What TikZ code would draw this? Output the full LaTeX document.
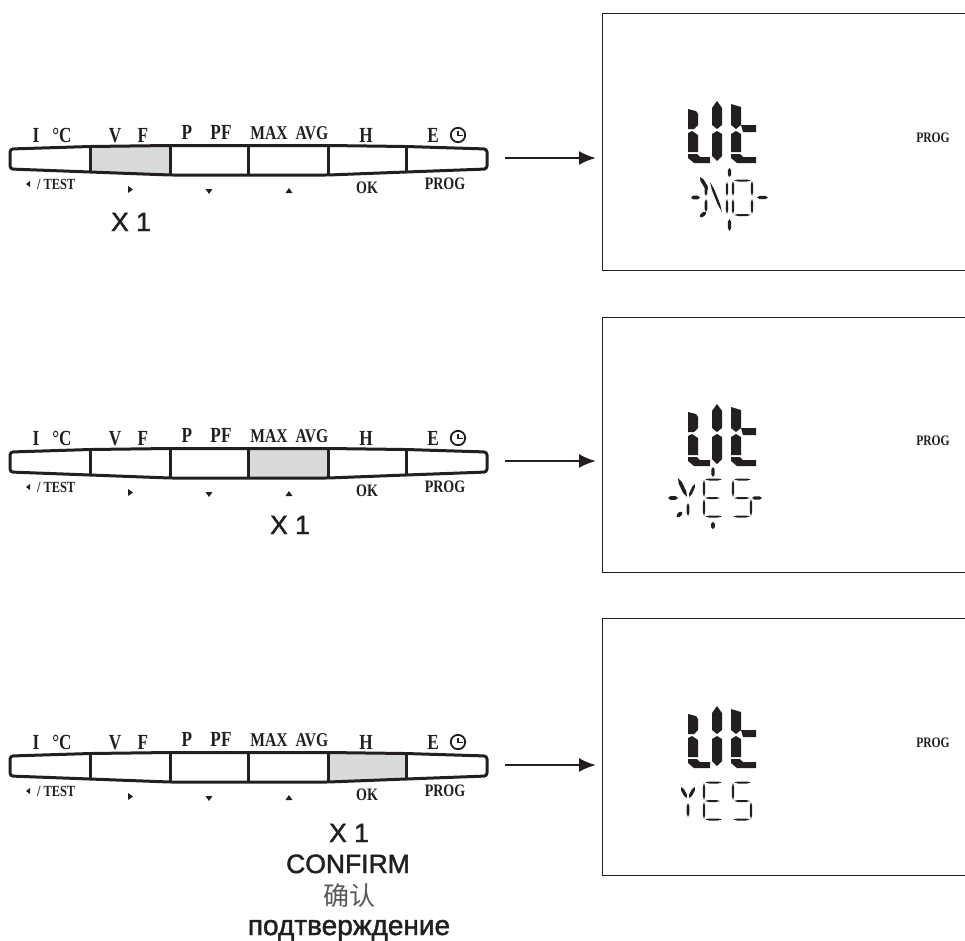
\documentclass[tikz,border=0pt]{standalone}
\usepackage{fontspec}
\setmainfont{Liberation Sans}
\newfontfamily\lab[FakeStretch=.8]{Liberation Serif}
\newfontfamily\cjk{Noto Sans CJK SC}
\newfontfamily\hel[FakeBold=1.6]{Liberation Sans}
\usetikzlibrary{calc,arrows.meta}
\definecolor{ink}{HTML}{231F20}
\definecolor{cellgray}{HTML}{D9DADB}
\tikzset{
  x=1bp,y=-1bp,
  every node/.style={inner sep=0pt,outer sep=0pt,text=ink},
  toplab/.style={anchor=base,font=\lab\bfseries\fontsize{21.5bp}{22bp}\selectfont},
  toplabs/.style={anchor=base,font=\lab\bfseries\fontsize{19.5bp}{20bp}\selectfont},
  botlab/.style={anchor=base,font=\lab\bfseries\fontsize{17.5bp}{18bp}\selectfont},
  caption/.style={anchor=base,font=\hel\fontsize{26.5bp}{27bp}\selectfont},
  progsmall/.style={anchor=base,font=\lab\bfseries\fontsize{14.5bp}{15bp}\selectfont},
  barline/.style={draw=ink,line width=3bp},
  boxline/.style={draw=ink,line width=1bp},
  arrowline/.style={draw=ink,line width=2.3bp,-{Latex[length=17bp,width=14bp]}},
}
% tapered LCD segment
\newcommand{\sg}[5]{\fill[ink] (#1,#2) -- ($(#1,#2)!.25!(#3,#4)!#5 bp!90:(#3,#4)$) -- ($(#1,#2)!.75!(#3,#4)!#5 bp!90:(#3,#4)$) -- (#3,#4) -- ($(#1,#2)!.75!(#3,#4)!#5 bp!-90:(#3,#4)$) -- ($(#1,#2)!.25!(#3,#4)!#5 bp!-90:(#3,#4)$) -- cycle;}
% button bar
\newcommand{\btnbar}[3]{%
\begin{scope}[yshift=-#1 bp]
\path[fill=cellgray] #3;
\draw[barline,rounded corners=3bp,line join=round] (10,149) -- (90,146.5) -- (170,145.5) -- (328,145.5) -- (406,146.5) -- (487,149) -- (487,169) -- (406,172) -- (328,175) -- (170,175) -- (90,172) -- (10,169) -- cycle;
\draw[barline] (90,146.5) -- (90,172) (170,145.5) -- (170,175) (248,145.5) -- (248,175.5) (328,145.5) -- (328,175) (406,146.5) -- (406,172);
\node[toplab] (#2i) at (36,142.5) {I};
\node[toplab] (#2c) at (62,142.5) {°C};
\node[toplab] (#2v) at (115,142) {V};
\node[toplab] (#2f) at (143,142) {F};
\node[toplab] (#2p) at (187,139.5) {P};
\node[toplab] (#2pf) at (221,139.5) {PF};
\node[toplabs] (#2mx) at (269,139.5) {MAX};
\node[toplabs] (#2av) at (312,139.5) {AVG};
\node[toplab] (#2h) at (366,142) {H};
\node[toplab] (#2e) at (433,142) {E};
\draw[ink,line width=1.8bp] (458,135) circle (7.2);
\draw[ink,line width=1.4bp] (458,130.5) -- (458,135.5) -- (462.5,135.5);
\node[botlab,anchor=base west,font=\lab\bfseries\fontsize{15.5bp}{16bp}\selectfont] (#2t) at (37,189) {/ TEST};
\fill[ink] (26,184) -- (30,181) -- (30,187) -- cycle;
\fill[ink] (133,189.5) -- (128,186) -- (128,193) -- cycle;
\fill[ink] (209,194) -- (205.5,189) -- (212.5,189) -- cycle;
\fill[ink] (289,188) -- (285.5,193) -- (292.5,193) -- cycle;
\node[botlab] (#2ok) at (367,193) {OK};
\node[botlab] (#2pr) at (445,189) {PROG};
\end{scope}}
% big Lit glyph
\newcommand{\lit}[1]{%
\begin{scope}[yshift=-#1 bp]
\fill[ink] (688,109) -- (696,111) -- (698,114) -- (698,125) -- (694,129) -- (688,129) -- cycle;
\fill[ink] (688,133) -- (692,131) -- (698,135) -- (698,152) -- (688,152) -- cycle;
\fill[ink] (688,154) -- (697,154) -- (700,157) -- (710,157) -- (710,163) -- (694,163) -- (688,158) -- cycle;
\fill[ink] (717,101) -- (722,108) -- (722,125) -- (717,129) -- (712,125) -- (712,108) -- cycle;
\fill[ink] (712,134) -- (717,131) -- (722,134) -- (722,156) -- (717,161) -- (712,156) -- cycle;
\fill[ink] (731,104) -- (741,107) -- (741,125) -- (736,129) -- (731,125) -- cycle;
\fill[ink] (731,134) -- (736,131) -- (741,134) -- (741,152) -- (731,152) -- cycle;
\fill[ink] (741,125) -- (756,125) -- (756,132) -- (743,132) -- cycle;
\fill[ink] (731,154) -- (740,154) -- (743,157) -- (756,157) -- (756,163) -- (737,163) -- (731,158) -- cycle;
\node[progsmall] (prog#1) at (933,142) {PROG};
\end{scope}}
% thin E and S
\newcommand{\letE}[2]{\sg{#1}{#2}{#1}{#2+17}{1.2}\sg{#1}{#2+19}{#1}{#2+36}{1.2}\sg{#1+1}{#2-.5}{#1+18}{#2-.5}{1}\sg{#1+1}{#2+18}{#1+16}{#2+18}{1}\sg{#1+1}{#2+36.5}{#1+18}{#2+36.5}{1}}
\newcommand{\letS}[2]{\sg{#1}{#2}{#1}{#2+17}{1.2}\sg{#1+18}{#2+19}{#1+18}{#2+36}{1.2}\sg{#1+1}{#2-.5}{#1+18}{#2-.5}{1}\sg{#1+1}{#2+18}{#1+17}{#2+18}{1}\sg{#1}{#2+36.5}{#1+17}{#2+36.5}{1}}
\begin{document}
\begin{tikzpicture}
\useasboundingbox (0,0) rectangle (965,941);
\fill[white] (0,0) rectangle (965,941);
\btnbar{0}{a}{(90,146.5) -- (170,145.5) -- (170,175) -- (90,172) -- cycle}
\btnbar{303}{b}{(248,145.5) -- (328,145.5) -- (328,175) -- (248,175.5) -- cycle}
\btnbar{607}{c}{(328,145.5) -- (406,146.5) -- (406,172) -- (328,175) -- cycle}
\node[caption] (x1) at (131,231) {X 1};
\node[caption] (x2) at (290,534) {X 1};
\node[caption] (x3) at (349,842) {X 1};
\node[caption] (conf) at (348,873) {CONFIRM};
\node[anchor=base,font=\cjk\fontsize{26bp}{28bp}\selectfont,text=ink!75] (qr) at (349,905) {确认};
\node[caption,font=\hel\fontsize{28bp}{28bp}\selectfont] (podt) at (349,935) {подтверждение};
% display boxes
\node (b1) at (783.5,142) [minimum width=363bp,minimum height=256bp] {};
\node (b2) at (783.5,444.5) [minimum width=363bp,minimum height=255bp] {};
\node (b3) at (783.5,746.5) [minimum width=363bp,minimum height=257bp] {};
\draw[boxline] (b1.north east) -- (b1.north west) -- (b1.south west) -- (b1.south east);
\draw[boxline] (b2.north east) -- (b2.north west) -- (b2.south west) -- (b2.south east);
\draw[boxline] (b3.north east) -- (b3.north west) -- (b3.south west) -- (b3.south east);
\coordinate (s1) at (505,158); \coordinate (e1) at (596,158);
\coordinate (s2) at (505,461); \coordinate (e2) at (596,461);
\coordinate (s3) at (505,765); \coordinate (e3) at (596,765);
\draw[arrowline] (s1) -- (e1);
\draw[arrowline] (s2) -- (e2);
\draw[arrowline] (s3) -- (e3);
\lit{0}\lit{303}\lit{605}
% row 1: NO with markers
\sg{691}{197.5}{700}{197.5}{1.9}
\sg{700}{177}{708}{190}{1.8}
\sg{706}{184}{706}{196}{1.4}
\sg{706}{199}{706}{212}{1.4}
\sg{700}{217}{706}{212}{1.8}
\sg{710}{182}{722}{212}{1.2}
\sg{727}{182}{727}{196}{1.2}
\sg{727}{199}{727}{214}{1.2}
\sg{733}{181}{733}{196}{1.2}
\sg{733}{199}{733}{214}{1.2}
\sg{752}{181}{752}{196}{1.2}
\sg{752}{199}{752}{214}{1.2}
\sg{734}{180.5}{751}{180.5}{1}
\sg{734}{215}{751}{215}{1}
\sg{729.5}{168}{729.5}{177}{1.7}
\sg{729.5}{219}{729.5}{231}{1.7}
\sg{757}{197.5}{768}{197.5}{1.7}
% row 2: YES with markers
\sg{668}{498}{678}{498}{1.9}
\sg{678}{478}{687}{497}{1.8}
\sg{695}{484}{689}{497}{1.4}
\sg{688}{503}{688}{516}{1.4}
\sg{677}{517}{682}{512}{1.9}
\sg{713}{467}{713}{477}{1.7}
\sg{713}{522}{713}{529}{1.9}
\letE{704}{480}
\letS{733}{480}
\sg{752}{498}{762}{498}{1.7}
% row 3: YES
\sg{681}{787}{687}{798}{1.6}
\sg{695}{787}{689}{798}{1.6}
\sg{688}{803}{688}{817}{1.4}
\letE{704}{783}
\letS{733}{783}
\end{tikzpicture}
\end{document}
